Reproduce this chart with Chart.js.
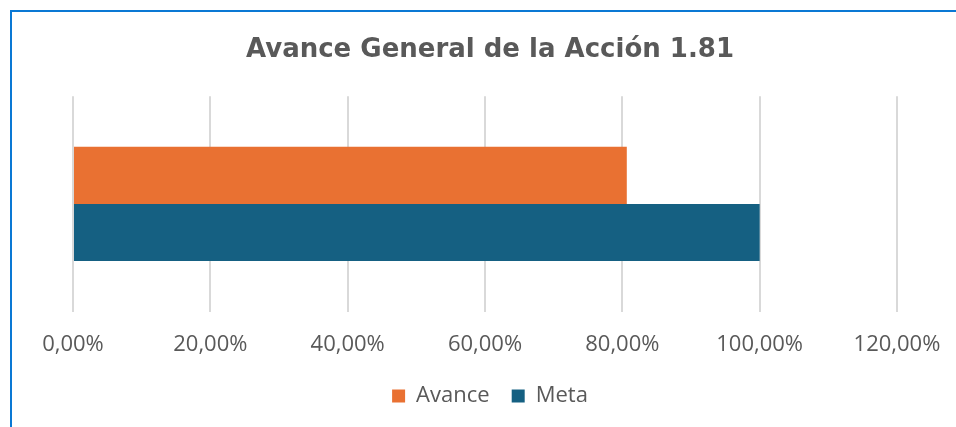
<!DOCTYPE html>
<html>
<head>
<meta charset="utf-8">
<script src="https://cdn.jsdelivr.net/npm/chart.js@4.4.1/dist/chart.umd.min.js"></script>
<style>
  html, body { margin: 0; padding: 0; background: #fff; }
  #frame {
    position: absolute; left: 10px; top: 10px; width: 946px; height: 417px;
    border-top: 2px solid #0a78d4; border-left: 2px solid #0a78d4;
    box-sizing: border-box;
  }
  #wrap { position: absolute; left: 0; top: 0; width: 956px; height: 427px; }
</style>
</head>
<body>
<div id="frame"></div>
<div id="wrap"><canvas id="chart"></canvas></div>
<script>
// Datos
const categorias = ['Acción 1.81'];
const avance = [0.8065];
const meta = [1.0];
const ticksX = [0, 0.2, 0.4, 0.6, 0.8, 1.0, 1.2];

const fuente = "'Open Sans', 'Noto Sans', sans-serif";
const gris = '#595959';
// separación entre los elementos de la leyenda
const espaciosLeyenda = ['  \u2009', ''];

const ctx = document.getElementById('chart').getContext('2d');
new Chart(ctx, {
  type: 'bar',
  data: {
    labels: categorias,
    datasets: [
      { label: 'Avance', data: avance, backgroundColor: '#E97132' },
      { label: 'Meta', data: meta, backgroundColor: '#156082' }
    ]
  },
  options: {
    indexAxis: 'y',
    responsive: true,
    maintainAspectRatio: false,
    animation: false,
    layout: { padding: { left: 32, right: 8, top: 10, bottom: 10 } },
    datasets: { bar: { barPercentage: 1, categoryPercentage: 0.53 } },
    plugins: {
      title: {
        display: true,
        text: 'Avance General de la Acción 1.81',
        color: gris,
        font: { family: "'DejaVu Sans', Verdana, sans-serif", size: 26, weight: 'bold' },
        padding: { top: 25, bottom: 30 }
      },
      legend: {
        position: 'bottom',
        labels: {
          color: gris,
          font: { family: fuente, size: 22 },
          boxWidth: 13, boxHeight: 13, padding: 7,
          generateLabels: chart => Chart.defaults.plugins.legend.labels.generateLabels(chart)
            .map((item, i) => ({ ...item, text: item.text + espaciosLeyenda[i] }))
        }
      },
      tooltip: { enabled: false }
    },
    scales: {
      x: {
        min: 0, max: 1.2,
        afterBuildTicks: axis => { axis.ticks = ticksX.map(v => ({ value: v })); },
        afterFit: axis => { axis.paddingLeft = 0; axis.paddingRight = 59; },
        grid: { color: '#d9d9d9', lineWidth: 2, drawTicks: false },
        border: { display: false },
        ticks: {
          color: gris,
          padding: 20,
          font: { family: fuente, size: 22 },
          callback: v => (v * 100).toFixed(2).replace('.', ',') + '%'
        }
      },
      y: {
        grid: { display: false },
        border: { display: false },
        ticks: { display: false },
        afterFit: axis => { axis.width = 41; }
      }
    }
  }
});
</script>
</body>
</html>
